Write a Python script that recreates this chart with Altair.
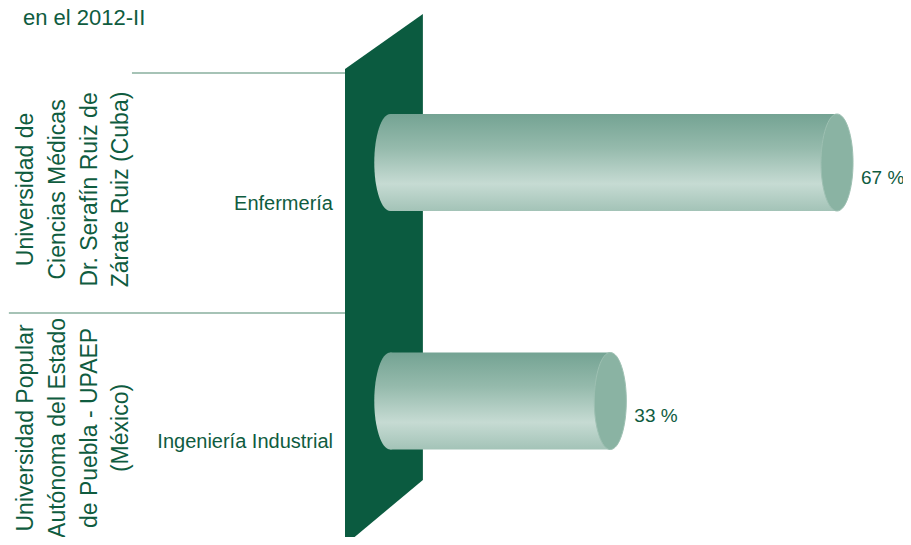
import altair as alt
import pandas as pd

# ---- data ----
title_text = "en el 2012-II"
universities = [
    "Universidad de\nCiencias Médicas\nDr. Serafín Ruiz de\nZárate Ruiz (Cuba)",
    "Universidad Popular\nAutónoma del Estado\nde Puebla - UPAEP\n(México)",
]
programs = ["Enfermería", "Ingeniería Industrial"]
values = [67, 33]
rows = [0, 1]

# ---- layout (data units of the shared scales) ----
W = 895
X_DOMAIN = [-57.33, -57.33 + W / 6.668]
Y_DOMAIN = [-0.6478, 1.5702]
wall_x = [-6.79, 4.89]
wall_top = [-0.392, -0.623]
wall_bottom = [1.604, 1.331]
sep_x1 = [-38.74, -57.2]
sep_x2 = [-6.79, -6.79]
sep_y = [-0.375, 0.631]

GREEN = "#0b5b40"
TEXT = "#0f5c3f"
FONT = "Liberation Sans, Arial, Helvetica, sans-serif"

df = pd.DataFrame({"uni": universities, "program": programs, "value": values, "row": rows})
df["label"] = [f"{v} %" for v in values]
wall_df = pd.DataFrame({"x": wall_x, "top": wall_top, "bottom": wall_bottom})
sep_df = pd.DataFrame({"x1": sep_x1, "x2": sep_x2, "y": sep_y})

xs = alt.Scale(domain=X_DOMAIN, nice=False, zero=False)
ys = alt.Scale(domain=Y_DOMAIN, nice=False, zero=False, reverse=True)

grad = alt.Gradient(
    gradient="linear",
    x1=0, x2=0, y1=0, y2=1,
    stops=[
        alt.GradientStop(offset=0.0, color="#74a393"),
        alt.GradientStop(offset=0.35, color="#95baac"),
        alt.GradientStop(offset=0.72, color="#c6dbd3"),
        alt.GradientStop(offset=1.0, color="#a3c3b7"),
    ],
)

ELLIPSE = ("M0,-1 C0.1823,-1 0.33,-0.5523 0.33,0 C0.33,0.5523 0.1823,1 0,1 "
           "C-0.1823,1 -0.33,0.5523 -0.33,0 C-0.33,-0.5523 -0.1823,-1 0,-1 Z")
CAP_SIZE = 97 * 97

base = alt.Chart(df).transform_calculate(
    base="0",
    ytop="datum.row - 0.2034",
    ybot="datum.row + 0.2034",
    upos="datum.row + 0.113",
)

seps = alt.Chart(sep_df).mark_rule(color="#a6c3b6", strokeWidth=2).encode(
    x=alt.X("x1:Q", scale=xs, axis=None),
    x2="x2:Q",
    y=alt.Y("y:Q", scale=ys, axis=None),
)

wall = alt.Chart(wall_df).mark_area(color=GREEN, opacity=1).encode(
    x=alt.X("x:Q", scale=xs, axis=None),
    y=alt.Y("top:Q", scale=ys, axis=None),
    y2="bottom:Q",
)

left_cap = base.mark_point(
    shape=ELLIPSE, size=CAP_SIZE, filled=True, fill=grad, opacity=1, strokeWidth=0
).encode(
    x=alt.X("base:Q", scale=xs, axis=None),
    y=alt.Y("row:Q", scale=ys, axis=None),
)

body = base.mark_rect(fill=grad, opacity=1).encode(
    x=alt.X("base:Q", scale=xs, axis=None),
    x2="value:Q",
    y=alt.Y("ytop:Q", scale=ys, axis=None),
    y2="ybot:Q",
)

face = base.mark_point(
    shape=ELLIPSE, size=CAP_SIZE, filled=True, fill="#8ab3a3", opacity=1,
    stroke="#9dc0b2", strokeWidth=1,
).encode(
    x=alt.X("value:Q", scale=xs, axis=None),
    y=alt.Y("row:Q", scale=ys, axis=None),
)

value_text = base.mark_text(
    align="left", baseline="alphabetic", dx=24, dy=21,
    font=FONT, fontSize=19, color=TEXT,
).encode(
    x=alt.X("value:Q", scale=xs, axis=None),
    y=alt.Y("row:Q", scale=ys, axis=None),
    text="label:N",
)

prog_text = base.mark_text(
    align="right", baseline="alphabetic", dy=47,
    font=FONT, fontSize=20, color=TEXT,
).encode(
    x=alt.datum(-8.59, scale=xs, axis=None),
    y=alt.Y("row:Q", scale=ys, axis=None),
    text="program:N",
)

uni_text = base.mark_text(
    align="center", baseline="alphabetic", angle=270, lineBreak="\n",
    lineHeight=31.7, font=FONT, fontSize=23, color=TEXT,
).encode(
    x=alt.datum(-53.54, scale=xs, axis=None),
    y=alt.Y("upos:Q", scale=ys, axis=None),
    text="uni:N",
)

title = alt.Chart(pd.DataFrame({"t": [title_text]})).mark_text(
    align="left", baseline="alphabetic", font=FONT,
    fontSize=22, color=TEXT,
).encode(
    x=alt.datum(-55.08, scale=xs, axis=None),
    y=alt.datum(-0.5765, scale=ys, axis=None),
    text="t:N",
)

chart = alt.layer(
    seps, wall, left_cap, body, face, value_text, prog_text, uni_text, title
).properties(
    width=W, height=529,
    autosize=alt.AutoSizeParams(type="none"),
    padding=0,
    background="white",
).configure_view(stroke=None)

chart.save("out.html", embed_options={"renderer": "svg", "actions": False})
